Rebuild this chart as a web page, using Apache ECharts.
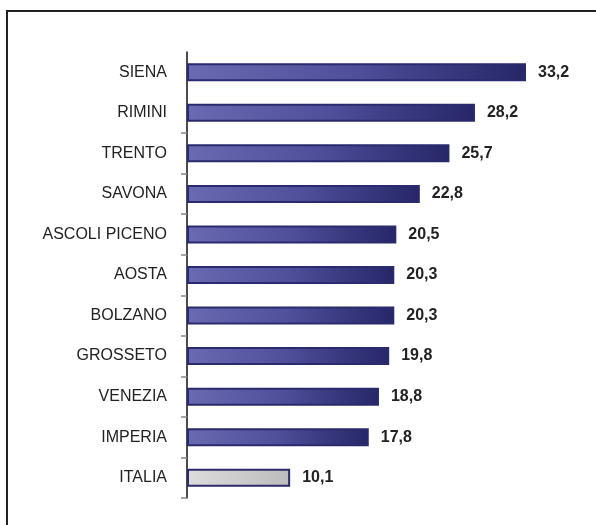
<!DOCTYPE html>
<html>
<head>
<meta charset="utf-8">
<script src="https://cdn.jsdelivr.net/npm/echarts@6/dist/echarts.min.js"></script>
<style>
  html, body { margin: 0; padding: 0; background: #fff; }
  #chart { width: 596px; height: 525px; }
</style>
</head>
<body>
<div id="chart"></div>
<script>
// province names, top to bottom
const cities = ['SIENA', 'RIMINI', 'TRENTO', 'SAVONA', 'ASCOLI PICENO', 'AOSTA',
    'BOLZANO', 'GROSSETO', 'VENEZIA', 'IMPERIA', 'ITALIA'];
const values = [33.2, 28.2, 25.7, 22.8, 20.5, 20.3, 20.3, 19.8, 18.8, 17.8, 10.1];
const highlight = 'ITALIA';

const blueBar = new echarts.graphic.LinearGradient(0, 0, 1, 0, [
    { offset: 0, color: '#6a6ab2' },
    { offset: 0.5, color: '#4e4e9a' },
    { offset: 1, color: '#262668' }
]);
const greyBar = new echarts.graphic.LinearGradient(0, 0, 1, 0, [
    { offset: 0, color: '#dcdcdc' },
    { offset: 1, color: '#bcbcbc' }
]);

const chart = echarts.init(document.getElementById('chart'), null, { renderer: 'canvas' });

const option = {
    backgroundColor: '#ffffff',
    animation: false,
    textStyle: { fontFamily: '"Liberation Sans", Arial, sans-serif' },
    graphic: [{
        type: 'rect',
        shape: { x: 7, y: 11, width: 640, height: 560 },
        style: { fill: 'none', stroke: '#222', lineWidth: 2 },
        silent: true
    }],
    grid: { left: 187, top: 52, width: 357.4, height: 446 },
    xAxis: {
        type: 'value',
        min: 0,
        max: 35,
        show: false
    },
    yAxis: {
        type: 'category',
        data: cities,
        inverse: true,
        axisLine: { show: true, lineStyle: { color: '#111', width: 1.5 } },
        axisTick: {
            show: true,
            length: 6,
            lineStyle: { color: '#888', width: 1.5 },
            interval: (i) => i >= 2
        },
        axisLabel: { color: '#222', fontSize: 16, margin: 20 },
        splitLine: { show: false }
    },
    series: [{
        type: 'bar',
        data: values.map((v, i) => ({
            value: v,
            itemStyle: { color: cities[i] === highlight ? greyBar : blueBar }
        })),
        barWidth: 18,
        itemStyle: { borderColor: '#2a2a6e', borderWidth: 2 },
        label: {
            show: true,
            position: 'right',
            distance: 12,
            color: '#222',
            fontSize: 16,
            fontWeight: 'bold',
            formatter: (p) => p.value.toFixed(1).replace('.', ',')
        }
    }]
};

chart.setOption(option);
</script>
</body>
</html>
